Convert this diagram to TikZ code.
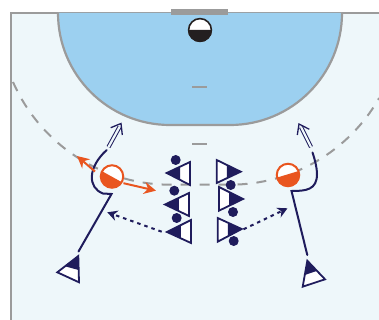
\documentclass[tikz,border=0pt]{standalone}
\usetikzlibrary{arrows.meta,calc}
\definecolor{navy}{HTML}{1F1C5C}
\definecolor{courtbg}{HTML}{EEF7FA}
\definecolor{areabl}{HTML}{9CD0F0}
\definecolor{linegr}{HTML}{9B9B9B}
\definecolor{orng}{HTML}{E9551F}
\definecolor{gkdark}{HTML}{231F20}
\tikzset{
  courtline/.style={draw=linegr,line width=2.2pt},
  run/.style={draw=navy,line width=2pt,line cap=round},
  sprint/.style={draw=navy,line width=1pt,double=courtbg,double distance=2.2pt},
  headline/.style={draw=navy,line width=1.3pt,line join=miter},
  passline/.style={draw=navy,line width=2pt,dash pattern=on 3.5pt off 4pt,-{Stealth[length=10pt,width=10.5pt]}},
  orngarrow/.style={draw=orng,line width=2pt,-{Stealth[length=12pt,width=12pt]}},
  playerring/.style={circle,draw=orng,line width=2pt,minimum size=22.5pt,inner sep=0pt},
  dot/.style={circle,fill=navy,minimum size=10pt,inner sep=0pt},
  tri/.style={fill=white,draw=navy,line width=1.8pt,line join=miter},
}
% tip, back1, back2: defender triangle with shaded tip half
\newcommand{\defender}[6]{%
  \fill[white] (#1,#2) -- (#3,#4) -- (#5,#6) -- cycle;
  \fill[navy] (#1,#2) -- ($(#1,#2)!.58!(#3,#4)$) -- ($(#1,#2)!.58!(#5,#6)$) -- cycle;
  \draw[tri,fill=none] (#1,#2) -- (#3,#4) -- (#5,#6) -- cycle;
}
\begin{document}
\begin{tikzpicture}[x=1pt,y=-1pt]
\useasboundingbox (0,0) rectangle (379,320);
% court
\fill[courtbg] (11,13) rectangle (379,320);
\draw[courtline] (11,320) -- (11,13) -- (379,13);
% goal area
\fill[areabl] (58,13) arc[start angle=180,end angle=90,radius=112] -- (230,125) arc[start angle=90,end angle=0,radius=112] -- cycle;
\draw[courtline] (58,13) arc[start angle=180,end angle=90,radius=112] -- (230,125) arc[start angle=90,end angle=0,radius=112];
\fill[linegr] (171,9.5) rectangle (228,15);
\draw[linegr,line width=1.6pt] (192,87) -- (207,87);
\draw[linegr,line width=1.6pt] (192,144) -- (207,144);
% free throw line
\draw[draw=linegr,line width=2pt,dash pattern=on 10pt off 9pt] (13,82) arc[start angle=156.3,end angle=90,radius=171.7] -- (230,184.7) arc[start angle=90,end angle=29.7,radius=171.7];
% goalkeeper
\node[circle,minimum size=24pt,inner sep=0pt,fill=white] (gk) at (200,30) {};
\fill[gkdark] (188,30) arc[start angle=180,end angle=0,radius=12] -- cycle;
\draw[gkdark,line width=1.6pt] (gk.center) circle[radius=11.4];
% left player
\node[playerring,fill=white] (pl) at (112,176.5) {};
\begin{scope}
  \clip (112,176.5) circle[radius=10.8];
  \fill[orng] (98,169) -- (126,184.5) -- (126,192) -- (98,192) -- cycle;
\end{scope}
% right player
\node[playerring,fill=white] (pr) at (288,175) {};
\begin{scope}
  \clip (288,175) circle[radius=10.8];
  \fill[orng] (274,178.5) -- (302,170) -- (302,192) -- (274,192) -- cycle;
\end{scope}
% defenders
\defender{166.7}{173}{190}{162}{190}{185}
\defender{165}{204.5}{189}{193}{189}{216}
\defender{167}{232}{191}{220}{191}{243}
\defender{240.7}{171.7}{216.7}{160}{216.7}{183}
\defender{243}{199}{219}{187}{219}{210.7}
\defender{241.7}{229}{217.7}{218}{217.7}{241.7}
\node[dot] (d1) at (175.7,160) {};
\node[dot] (d2) at (174.3,190.7) {};
\node[dot] (d3) at (176.7,218) {};
\node[dot] (d4) at (230.7,185) {};
\node[dot] (d5) at (233,212) {};
\node[dot] (d6) at (233.7,241) {};
% cones
\fill[white] (78.3,256) -- (57.3,272.3) -- (79,282.3) -- cycle;
\fill[navy] (78.3,256) -- (65,266.3) -- (78.6,270) -- cycle;
\draw[tri,fill=none] (78.3,256) -- (57.3,272.3) -- (79,282.3) -- cycle;
\fill[white] (307.3,260.7) -- (325,279.3) -- (302.7,286.7) -- cycle;
\fill[navy] (307.3,260.7) -- (316.5,271) -- (304.8,275) -- cycle;
\draw[tri,fill=none] (307.3,260.7) -- (325,279.3) -- (302.7,286.7) -- cycle;
% runs
\coordinate (la) at (78.5,251.5);
\coordinate (lb) at (111.5,194);
\coordinate (lc) at (106.7,150);
\draw[run] (la) -- (lb) -- (103,193.5) .. controls (88,188) and (87,168) .. (lc);
\coordinate (ra) at (307.3,255);
\coordinate (rb) at (291.5,191);
\coordinate (rc) at (312.5,152.5);
\draw[run] (ra) -- (rb) .. controls (306,191) and (317,190) .. (317,174) .. controls (317,168) and (315,160) .. (rc);
% sprint arrows
\coordinate (ls) at (108.5,147);
\coordinate (lt) at (119.5,127);
\coordinate (lh) at (121,123.5);
\draw[sprint] (ls) -- (lt);
\draw[headline] (110.7,127.7) -- (lh) -- (122.3,135);
\coordinate (rs) at (311,147);
\coordinate (rt) at (301,127);
\coordinate (rh) at (299,124);
\draw[sprint] (rs) -- (rt);
\draw[headline] (309.3,129.3) -- (rh) -- (297.3,135);
% orange arrows
\coordinate (o1) at (77,156);
\coordinate (o2) at (156,190.7);
\draw[orngarrow] (95,171.5) -- (o1);
\draw[orngarrow] (123.5,183.2) -- (o2);
% passes
\coordinate (pa) at (161.7,231.7);
\coordinate (pb) at (107.3,212.3);
\draw[passline] (pa) -- (pb);
\coordinate (pc) at (243.5,229.3);
\coordinate (pd) at (287.5,208.3);
\draw[passline] (pc) -- (pd);
\end{tikzpicture}
\end{document}
